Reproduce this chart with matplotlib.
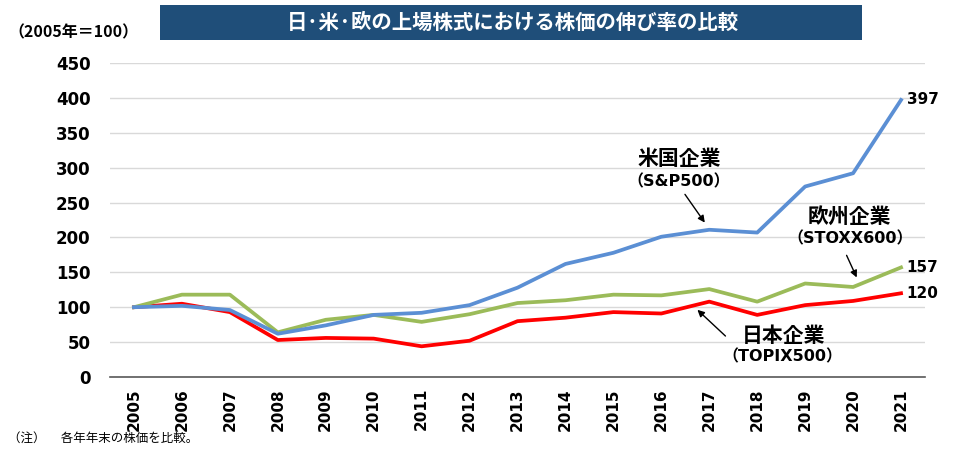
import matplotlib
matplotlib.use("Agg")
import matplotlib.pyplot as plt
from matplotlib.patches import Rectangle

plt.rcParams['font.family'] = ['DejaVu Sans', 'Noto Sans CJK JP']
JP = ['Noto Sans CJK JP', 'DejaVu Sans']
MIX = ['DejaVu Sans', 'Noto Sans CJK JP']

years = [str(y) for y in range(2005, 2022)]
us = [100, 102, 96, 62, 74, 89, 92, 103, 128, 162, 178, 201, 211, 207, 273, 292, 397]
eu = [100, 118, 118, 64, 82, 89, 79, 90, 106, 110, 118, 117, 126, 108, 134, 129, 157]
jp = [100, 105, 93, 53, 56, 55, 44, 52, 80, 85, 93, 91, 108, 89, 103, 109, 120]

c_us = '#5B8FD4'
c_eu = '#9BBB59'
c_jp = '#FF0000'

fig = plt.figure(figsize=(9.68, 4.49), dpi=100)
ax = fig.add_axes([110 / 968, 1 - 377 / 449, 815 / 968, 314 / 449])

x = list(range(len(years)))
ax.plot(x, jp, color=c_jp, lw=2.7, solid_joinstyle='round', zorder=3)
ax.plot(x, eu, color=c_eu, lw=2.7, solid_joinstyle='round', zorder=3)
ax.plot(x, us, color=c_us, lw=2.7, solid_joinstyle='round', zorder=4)

ax.set_xlim(-0.5, len(years) - 0.5)
ax.set_ylim(0, 450)
ax.set_yticks(range(0, 451, 50))
ax.set_xticks(x)
ax.set_xticklabels(years, rotation=90, fontsize=11, fontweight='bold')
for lab in ax.get_yticklabels():
    lab.set_fontsize(12)
    lab.set_fontweight('bold')
ax.tick_params(length=0)
ax.tick_params(axis='y', pad=14)
ax.tick_params(axis='x', pad=8)
ax.grid(axis='y', color='#D9D9D9', lw=1)
ax.set_axisbelow(True)
for s in ['top', 'right', 'left']:
    ax.spines[s].set_visible(False)
ax.spines['bottom'].set_color('#595959')
ax.spines['bottom'].set_linewidth(1.2)

# end values
for vals in (us, eu, jp):
    ax.annotate(str(vals[-1]), (x[-1], vals[-1]), xytext=(4, 0), textcoords='offset points',
                ha='left', va='center', fontsize=11, fontweight='bold')

arrow = dict(arrowstyle='-|>', color='black', lw=1, mutation_scale=10)

# series labels
ax.text(11.38, 313, '米国企業', family=JP, fontsize=15, fontweight='bold', ha='center', va='center')
ax.text(11.36, 280, '（S&P500）', family=MIX, fontsize=11.5, fontweight='bold', ha='center', va='center')
ax.annotate('', xy=(11.94, 218), xytext=(11.46, 265), arrowprops=arrow)

ax.text(14.92, 231, '欧州企業', family=JP, fontsize=15, fontweight='bold', ha='center', va='center')
ax.text(14.94, 198, '（STOXX600）', family=MIX, fontsize=11.5, fontweight='bold', ha='center', va='center')
ax.annotate('', xy=(15.1, 139), xytext=(14.84, 178), arrowprops=arrow)

ax.text(13.55, 60, '日本企業', family=JP, fontsize=15, fontweight='bold', ha='center', va='center')
ax.text(13.52, 29, '（TOPIX500）', family=MIX, fontsize=11.5, fontweight='bold', ha='center', va='center')
ax.annotate('', xy=(11.71, 99), xytext=(12.38, 56), arrowprops=arrow)

# title box
fig.patches.append(Rectangle((160 / 968, 1 - 40 / 449), 702 / 968, 35 / 449,
                             transform=fig.transFigure, facecolor='#1F4E79', edgecolor='none'))
fig.text(513 / 968, 1 - 22.5 / 449, '日·米·欧の上場株式における株価の伸び率の比較', family=JP,
         color='white', fontsize=14.7, fontweight='bold', ha='center', va='center')
fig.text(8 / 968, 1 - 32 / 449, '（2005年＝100）', family=JP, fontsize=11.5, fontweight='bold',
         ha='left', va='center')
fig.text(8 / 968, 1 - 438 / 449, '（注）　 各年年末の株価を比較。', family=JP, fontsize=9,
         ha='left', va='center')

fig.savefig('out.png', dpi=100)
